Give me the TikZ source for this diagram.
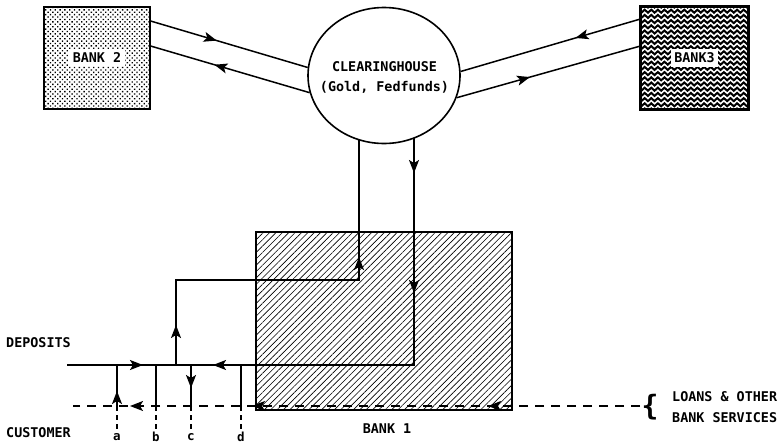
\documentclass[tikz,border=0pt]{standalone}
\usepackage{fontspec}
\setmainfont{DejaVu Sans Mono}
\usetikzlibrary{patterns,patterns.meta,decorations.markings,decorations.pathmorphing,shapes.geometric,arrows.meta,calc}
\newcommand\mytip{\arrow{Stealth[length=13pt,width=10pt,inset=3pt]}}
\tikzset{
 txt/.style={font=\fontsize{13.4}{20}\selectfont\bfseries, inner sep=1pt},
 small/.style={font=\fontsize{12.5}{14}\selectfont\bfseries, inner sep=1pt},
 bank/.style={draw, line width=1.8pt, inner sep=0pt},
 ln/.style={line width=1.5pt},
 dsh/.style={line width=1.5pt, dash pattern=on 9pt off 7pt},
 vdsh/.style={line width=1.3pt, dash pattern=on 5pt off 4pt},
 marks/.style={postaction={decorate}, decoration={markings, #1}}
}
\begin{document}
\begin{tikzpicture}[x=1pt,y=-1pt]
\useasboundingbox (0,0) rectangle (781,445);
% banks
\node[bank, minimum width=106pt, minimum height=102pt,
  pattern={Dots[radius=0.95pt,distance=3.4pt,angle=45]}] (b2) at (97,58) {};
\node[txt, fill=white, inner xsep=4pt, inner ysep=3pt] (b2l) at (b2) {BANK 2};
\node[bank, minimum width=107pt, minimum height=102pt] (b3) at (694.5,58) {};
\begin{scope}
 \clip (b3.south west) rectangle (b3.north east);
 \foreach \yy in {6,11.2,...,112}
  \draw[line width=2pt, decorate, decoration={snake,segment length=6.6pt,amplitude=1.5pt}] (636,\yy) -- (756,\yy);
\end{scope}
\draw[line width=1.8pt] (b3.south west) rectangle (b3.north east);
\node[txt, fill=white, inner xsep=3pt, inner ysep=3.5pt] (b3l) at (b3) {BANK3};
\node[bank, minimum width=256pt, minimum height=178pt,
  pattern={Lines[angle=45,distance=4.5pt,line width=0.65pt]}] (b1) at (384,321) {};
\node[txt] (b1l) at (387,429) {BANK 1};
% clearinghouse
\node[ellipse, draw, line width=1.6pt, minimum width=152pt, minimum height=136pt, inner sep=0pt, fill=white] (ch) at (384,75.5) {};
\node[txt, align=center] (chl) at (384.5,77.5) {CLEARINGHOUSE\\(Gold, Fedfunds)};
% bank2 - clearinghouse
\draw[ln, marks={mark=at position 0.42 with {\mytip}}] ($(b2.north east)+(0,15)$) -- (ch.174);
\draw[ln, marks={mark=at position 0.6 with {\mytip}}] (ch.193) -- ($(b2.north east)+(0,40)$);
% bank3 - clearinghouse
\draw[ln, marks={mark=at position 0.36 with {\mytip}}] ($(b3.north west)+(0,13)$) -- (ch.3);
\draw[ln, marks={mark=at position 0.4 with {\mytip}}] (ch.343) -- ($(b3.north west)+(0,40)$);
% coordinates
\coordinate (chL) at (359,140);
\coordinate (chR) at (414,138);
\coordinate (jn) at (176,365);
\coordinate (dstart) at (67,365);
\coordinate (lend) at (640,406);
\coordinate (lstart) at (73,406);
% right path: clearinghouse -> bank1 -> deposits line
\draw[ln, marks={mark=at position 35pt with {\mytip}, mark=at position 155pt with {\mytip}, mark=at position 428pt with {\mytip}}]
  (chR) -- (414,365) -- (jn);
% left path: deposits line -> bank1 -> clearinghouse
\draw[ln, marks={mark=at position 40pt with {\mytip}, mark=at position 291pt with {\mytip}}]
  (jn) -- (176,280) -- (359,280) -- (chL);
% deposits line
\draw[ln, marks={mark=at position 76pt with {\mytip}}] (dstart) -- (jn);
% customer dashed line
\draw[dsh, marks={mark=at position 152pt with {\mytip}, mark=at position 388pt with {\mytip}, mark=at position 510pt with {\mytip}}]
  (lend) -- (lstart);
% taps a-d
\coordinate (at) at (117,365); \coordinate (ab) at (117,406);
\coordinate (bt) at (156,365); \coordinate (bb) at (156,406);
\coordinate (ct) at (191,365); \coordinate (cb) at (191,406);
\coordinate (dt) at (241,365); \coordinate (db) at (241,406);
\draw[ln, marks={mark=at position 15pt with {\mytip}}] (ab) -- (at);
\draw[ln] (bt) -- (bb);
\draw[ln, marks={mark=at position 23pt with {\mytip}}] (ct) -- (cb);
\draw[ln] (dt) -- (db);
\node[small] (la) at (117,437) {a};
\node[small] (lb) at (156,437) {b};
\node[small] (lc) at (191,437) {c};
\node[small] (ld) at (241,437) {d};
\draw[vdsh] (ab) -- (la.north);
\draw[vdsh] (bb) -- (lb.north);
\draw[vdsh] (cb) -- (lc.north);
\draw[vdsh] (db) -- (ld.north);
% labels
\node[txt, anchor=west] (dep) at (5,343) {DEPOSITS};
\node[txt, anchor=west] (cust) at (5,433) {CUSTOMER};
\node[font=\fontsize{28}{28}\selectfont\bfseries, inner sep=0pt] (brace) at (650,407) {\{};
\node[txt, anchor=west, inner sep=0pt] (loans1) at (672,397) {LOANS \& OTHER};
\node[txt, anchor=west, inner sep=0pt] (loans2) at (672,418) {BANK SERVICES};
\end{tikzpicture}
\end{document}
